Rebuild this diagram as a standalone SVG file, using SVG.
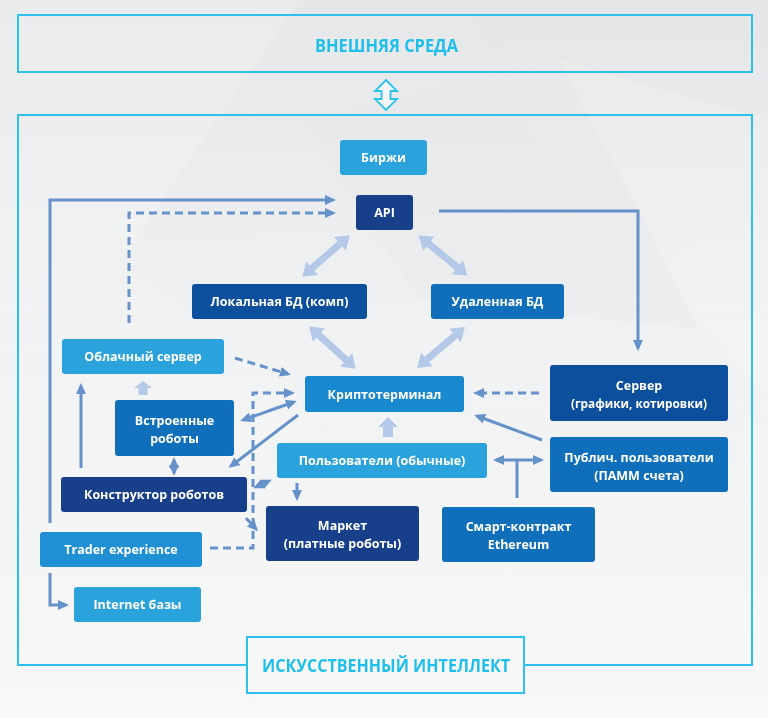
<svg xmlns="http://www.w3.org/2000/svg" width="768" height="718" viewBox="0 0 768 718">
<defs>
<linearGradient id="bg" x1="0" y1="0" x2="0" y2="1">
<stop offset="0" stop-color="#e6e7e8"/>
<stop offset="0.45" stop-color="#f0f1f2"/>
<stop offset="1" stop-color="#f8f8f8"/>
</linearGradient>
<marker id="ah" markerUnits="userSpaceOnUse" markerWidth="11" markerHeight="10" viewBox="0 0 11 10" refX="8" refY="5" orient="auto-start-reverse">
<path d="M0,0 L11,5 L0,10 z" fill="#6592c9"/>
</marker>
<path id="dbl" d="M-31.5,0 L-18.5,-9 L-18.5,-3.5 L18.5,-3.5 L18.5,-9 L31.5,0 L18.5,9 L18.5,3.5 L-18.5,3.5 L-18.5,9 Z"/>
<path id="up" d="M0,0 L10,10 L5,10 L5,20 L-5,20 L-5,10 L-10,10 Z"/>
</defs>
<style>
.frame{fill:none;stroke:#2cc1ea;stroke-width:2}
.ttl{font-family:"Open Sans","Liberation Sans",sans-serif;font-weight:700;font-size:17px;fill:#1ebfea;text-anchor:middle}
.n rect{rx:3;ry:3}
.n text{font-family:"Open Sans","Liberation Sans",sans-serif;font-weight:700;font-size:12.5px;fill:#ffffff;text-anchor:middle}
.n text.sm{font-size:11.8px}
.lb{fill:#2aa2dc}
.tr{fill:#1f90d4}
.kr{fill:#1888cf}
.md{fill:#0f6fbb}
.dk{fill:#0c4f9d}
.nv{fill:#173f8a}
.c{fill:none;stroke:#6592c9;stroke-width:3}
.d{stroke-dasharray:8 5}
.fat{fill:#b3c9e7}
</style>
<rect x="0" y="0" width="768" height="718" fill="url(#bg)"/>
<g opacity="0.35">
<polygon points="0,0 300,0 120,260 0,330" fill="#ffffff" opacity="0.5"/>
<polygon points="460,0 768,0 768,180 620,300" fill="#e2e3e5" opacity="0.4"/>
<polygon points="300,120 560,60 700,330 420,300" fill="#e6e7e9" opacity="0.5"/>
<polygon points="0,330 120,260 330,420 0,600" fill="#f7f7f7" opacity="0.7"/>
<polygon points="560,60 768,120 768,400 700,330" fill="#fafafa" opacity="0.6"/>
</g>

<g id="frames">
<rect class="frame" x="18" y="15" width="734" height="57"/>
<text class="ttl" x="386.5" y="52" textLength="143" lengthAdjust="spacingAndGlyphs">ВНЕШНЯЯ СРЕДА</text>
<path d="M386,80 L397,91 L390.5,91 L390.5,99 L397,99 L386,110 L375,99 L381.5,99 L381.5,91 L375,91 Z" fill="#f4f5f6" stroke="#2cc1ea" stroke-width="1.8"/>
<path class="frame" d="M247,665 L18,665 L18,115 L752,115 L752,665 L524,665"/>
<rect class="frame" x="247" y="637" width="277" height="56"/>
<text class="ttl" x="386" y="672" textLength="248" lengthAdjust="spacingAndGlyphs">ИСКУССТВЕННЫЙ ИНТЕЛЛЕКТ</text>
</g>

<g id="connectors">
<use href="#dbl" class="fat" transform="translate(326,256) rotate(-41.2)"/>
<use href="#dbl" class="fat" transform="translate(443,255.5) rotate(39.4)"/>
<use href="#dbl" class="fat" transform="translate(332.5,347.5) rotate(42.3)"/>
<use href="#dbl" class="fat" transform="translate(441,347.5) rotate(-40.5)"/>
<use href="#up" class="fat" transform="translate(388,417)"/>
<use href="#up" class="fat" transform="translate(143,381) scale(0.9,0.7)"/>
<polyline class="c" points="50,523 50,200 333,200" marker-end="url(#ah)"/>
<polyline class="c d" points="129,323 129,213 333,213" marker-end="url(#ah)"/>
<polyline class="c" points="439,211 638,211 638,348" marker-end="url(#ah)"/>
<line class="c d" x1="235" y1="358" x2="288" y2="374" marker-end="url(#ah)"/>
<line class="c d" x1="539" y1="393" x2="476" y2="393" marker-end="url(#ah)"/>
<line class="c" x1="542" y1="440" x2="477" y2="416" marker-end="url(#ah)"/>
<line class="c" x1="496" y1="460" x2="541" y2="460" marker-start="url(#ah)" marker-end="url(#ah)"/>
<line class="c" x1="517" y1="460" x2="517" y2="498"/>
<line class="c" x1="81" y1="468" x2="81" y2="386" marker-end="url(#ah)"/>
<line class="c" x1="174" y1="460" x2="174" y2="473" marker-start="url(#ah)" marker-end="url(#ah)"/>
<line class="c" x1="243" y1="420" x2="294" y2="402" marker-start="url(#ah)" marker-end="url(#ah)"/>
<line class="c" x1="298" y1="415" x2="231" y2="466" marker-end="url(#ah)"/>
<polyline class="c d" points="210,548 253,548 253,393 292,393" marker-end="url(#ah)"/>
<line class="c" x1="256" y1="487" x2="269" y2="481" marker-start="url(#ah)" marker-end="url(#ah)"/>
<line class="c" x1="246" y1="518" x2="256" y2="529" marker-end="url(#ah)"/>
<line class="c" x1="297" y1="483" x2="297" y2="498" marker-end="url(#ah)"/>
<polyline class="c" points="50,573 50,605 66,605" marker-end="url(#ah)"/>
</g>

<g id="birzhi" class="n"><rect class="lb" x="340" y="140" width="87" height="35"/><text x="383.5" y="162">Биржи</text></g>
<g id="api" class="n"><rect class="nv" x="356" y="195" width="57" height="35"/><text x="384.5" y="217">API</text></g>
<g id="lokal" class="n"><rect class="dk" x="192" y="284" width="175" height="35"/><text x="279.5" y="306">Локальная БД (комп)</text></g>
<g id="udal" class="n"><rect class="md" x="431" y="284" width="133" height="35"/><text x="497.5" y="306">Удаленная БД</text></g>
<g id="oblako" class="n"><rect class="lb" x="62" y="339" width="162" height="35"/><text x="143" y="361">Облачный сервер</text></g>
<g id="kripto" class="n"><rect class="kr" x="305" y="376" width="159" height="36"/><text x="384.5" y="399">Криптотерминал</text></g>
<g id="server" class="n"><rect class="dk" x="550" y="365" width="178" height="56"/><text x="639" y="390">Сервер</text><text class="sm" x="639" y="408">(графики, котировки)</text></g>
<g id="vstroen" class="n"><rect class="md" x="115" y="400" width="119" height="56"/><text x="174.5" y="425">Встроенные</text><text x="174.5" y="443">роботы</text></g>
<g id="polz" class="n"><rect class="lb" x="277" y="443" width="210" height="35"/><text x="382" y="465">Пользователи (обычные)</text></g>
<g id="publich" class="n"><rect class="md" x="550" y="437" width="178" height="55"/><text x="639" y="462">Публич. пользователи</text><text x="639" y="480">(ПАММ счета)</text></g>
<g id="konstr" class="n"><rect class="nv" x="61" y="477" width="186" height="35"/><text x="154" y="499">Конструктор роботов</text></g>
<g id="market" class="n"><rect class="nv" x="266" y="506" width="153" height="55"/><text x="342.5" y="530">Маркет</text><text x="342.5" y="548">(платные роботы)</text></g>
<g id="smart" class="n"><rect class="md" x="442" y="507" width="153" height="55"/><text x="518.5" y="531">Смарт-контракт</text><text x="518.5" y="549">Ethereum</text></g>
<g id="trader" class="n"><rect class="tr" x="40" y="532" width="162" height="35"/><text x="121" y="554">Trader experience</text></g>
<g id="internet" class="n"><rect class="lb" x="74" y="587" width="127" height="35"/><text x="137.5" y="609">Internet базы</text></g>
</svg>
